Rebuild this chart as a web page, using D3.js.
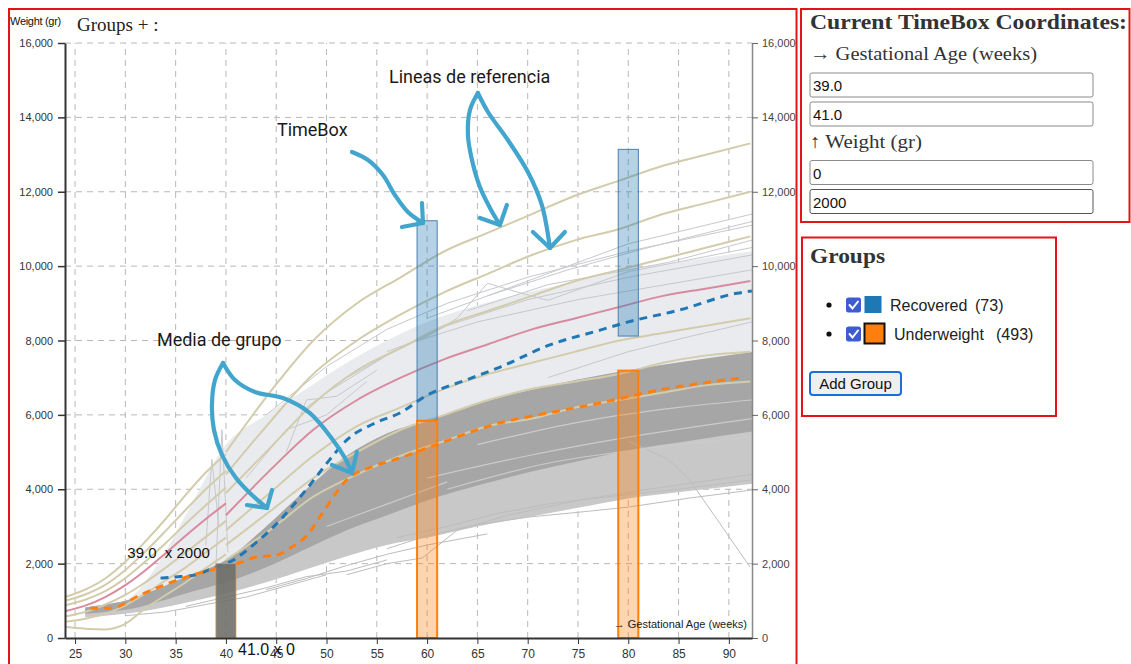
<!DOCTYPE html>
<html>
<head>
<meta charset="utf-8">
<script src="https://cdn.jsdelivr.net/npm/d3@7"></script>
<style>
  html, body { margin: 0; padding: 0; background: #fff; }
  svg { display: block; }
</style>
</head>
<body>
<svg id="page" width="1131" height="664"></svg>
<script>
// ---------------- data ----------------
const weekTicks = [25, 30, 35, 40, 45, 50, 55, 60, 65, 70, 75, 80, 85, 90];
const weightTicks = [0, 2000, 4000, 6000, 8000, 10000, 12000, 14000, 16000];

// reference curves, z = +3 .. -3 (grams); preterm chart up to 40 weeks, then the infant standard
const pretermWeeks = [24, 26, 28, 30, 32, 34, 36, 38, 40];
const pretermPlus3  = [1100, 1300, 1600, 2050, 2600, 3200, 3850, 4450, 4950];
const pretermPlus2  = [1000, 1170, 1430, 1830, 2330, 2880, 3450, 4000, 4500];
const pretermPlus1  = [880, 1030, 1260, 1610, 2060, 2550, 3070, 3570, 4050];
const pretermMedian = [720, 870, 1100, 1420, 1820, 2280, 2750, 3200, 3620];
const pretermMinus1 = [580, 700, 900, 1160, 1500, 1890, 2300, 2720, 3150];
const pretermMinus2 = [440, 520, 650, 880, 1200, 1550, 1900, 2300, 2700];
const pretermMinus3 = [300, 250, 230, 380, 800, 1150, 1500, 1880, 2250];

const infantWeeks  = [40, 44.35, 48.69, 53.04, 57.38, 61.73, 66.07, 70.42, 74.76, 79.11, 83.45, 87.8, 92.14];
const infantPlus3  = [5000, 6600, 8000, 9000, 9700, 10400, 10900, 11400, 11900, 12300, 12700, 13000, 13300];
const infantPlus2  = [4400, 5800, 7100, 8000, 8700, 9300, 9800, 10300, 10700, 11000, 11400, 11700, 12000];
const infantPlus1  = [3900, 5100, 6300, 7200, 7800, 8400, 8800, 9200, 9600, 9900, 10200, 10500, 10800];
const infantMedian = [3300, 4500, 5600, 6400, 7000, 7500, 7900, 8300, 8600, 8900, 9200, 9400, 9600];
const infantMinus1 = [2900, 3900, 4900, 5700, 6200, 6700, 7100, 7400, 7700, 8000, 8200, 8400, 8600];
const infantMinus2 = [2500, 3400, 4300, 5000, 5600, 6000, 6400, 6700, 6900, 7100, 7400, 7600, 7700];
const infantMinus3 = [2100, 2900, 3800, 4400, 4900, 5300, 5700, 5900, 6200, 6400, 6600, 6800, 6900];

// group means
const recoveredWeeks = [33.5, 35, 37, 38.7, 40.7, 42.7, 44.7, 48.1, 50.3, 52, 55, 57.3, 60, 64, 67.2, 72.2, 77.2, 80, 85.1, 90.8, 92.3];
const recoveredMean  = [1610, 1640, 1700, 1880, 2090, 2500, 2980, 4030, 4790, 5320, 5800, 6050, 6530, 6950, 7280, 7880, 8280, 8500, 8820, 9270, 9330];
const underWeeks = [26.5, 28.5, 31.5, 34.4, 37.4, 40.7, 43.1, 45.1, 46.4, 48.1, 49.6, 52, 54.5, 57.3, 60, 67.2, 72, 77.2, 83.1, 91.1];
const underMean  = [800, 800, 1160, 1480, 1750, 1960, 2180, 2230, 2420, 2770, 3360, 4250, 4600, 4840, 5110, 5780, 6050, 6320, 6670, 6990];

// spread of the individual series
const bandWeeks        = [26, 28, 30, 33, 36, 40, 44, 48, 52, 56, 60, 65, 70, 75, 80, 86, 92.3];
const recoveredTop     = [820, 900, 1000, 1900, 3300, 5200, 6000, 6700, 7400, 8000, 8500, 8950, 9300, 9600, 9900, 10150, 10400];
const underTop         = [820, 900, 1000, 1300, 1650, 2100, 3000, 4000, 4900, 5500, 5850, 6300, 6650, 6950, 7200, 7450, 7690];
const underCoreBottom  = [650, 700, 760, 950, 1200, 1500, 1900, 2400, 2900, 3300, 3700, 4100, 4450, 4750, 5050, 5300, 5550];
const underSpreadBottom= [560, 600, 650, 780, 950, 1200, 1500, 1850, 2200, 2500, 2700, 3000, 3250, 3500, 3750, 3950, 4150];

// individual series drawn on their own ([week, grams])
const recoveredSeries = [
  [[56, 7700], [60, 8100], [63, 8600], [66, 9540], [69, 9300], [72, 9080], [80, 9850], [92.3, 10500]],
  [[44, 6000], [50, 7300], [56, 8300], [62, 9000], [70, 9700], [80, 10400], [92.3, 11100]],
  [[50, 6600], [56, 7600], [62, 8400], [70, 9100], [80, 9700], [92.3, 10300]],
  [[60, 8600], [70, 9600], [80, 10600], [92.3, 11400]],
  [[48, 6200], [52, 7000], [58, 7900], [65, 8500], [75, 9100], [92.3, 9900]],
  [[46, 5000], [48, 6400], [51, 6500], [55, 7200]],
  [[72, 7000], [80, 7700], [86, 8100], [92.3, 8500]],
  [[39, 1900], [39.6, 5600], [40.2, 2300]],
  [[38, 2500], [38.6, 4800], [39.3, 3000]],
  [[42, 4300], [46, 5600], [50, 6000], [54, 6900]],
  [[66, 9200], [74, 9900], [82, 10500], [92.3, 11200]],
  [[64, 8800], [72, 9500], [84, 10100], [92.3, 10700]]
];
const underSeries = [
  [[56, 2400], [60, 2750], [65, 3050], [70, 3250], [75, 3380], [80, 3520], [86, 3760], [92.3, 3980]],
  [[57, 2700], [62, 3000], [67, 3350], [72, 3600], [78, 3800], [85, 4000], [92.3, 4250]],
  [[80, 5300], [84, 4800], [86.1, 4250], [92.1, 1910]],
  [[52, 1700], [56, 2000], [59.5, 2150], [63, 2900], [68, 3300], [75, 3700], [82, 4000], [92.3, 4400]],
  [[44, 1300], [48, 1600], [52, 1950], [56, 2250], [60, 2500], [66, 2800]],
  [[36, 850], [40, 1100], [44, 1350], [48, 1650], [52, 1800], [56, 2100]],
  [[30, 600], [34, 700], [38, 900], [42, 1100], [46, 1400], [50, 1700]]
];
const coreStreaks = [
  [[60, 4300], [70, 4900], [80, 5400], [92.3, 5900]],
  [[62, 4000], [72, 4700], [82, 5100], [92.3, 5400]],
  [[65, 5200], [75, 5800], [85, 6200], [92.3, 6400]],
  [[50, 3000], [56, 3600], [62, 4200]]
];

// time boxes
const boxFrom  = [59, 59, 79, 79];
const boxTo    = [61, 61, 81, 81];
const boxLow   = [5840, 0, 8120, 0];
const boxHigh  = [11220, 5840, 13140, 7190];
const boxGroup = ["Recovered", "Underweight", "Recovered", "Underweight"];
const activeBox = { from: 39, to: 41, low: 0, high: 2000 };

// groups listed in the side panel
const groupNames  = ["Recovered", "Underweight"];
const groupCounts = [73, 493];
const groupColors = { Recovered: "#1f77b4", Underweight: "#ff7f0e" };

// hand-drawn callouts (week, grams)
const notes = [
  { text: "TimeBox", at: [45.07, 13499] },
  { text: "Lineas de referencia", at: [56.21, 14924] },
  { text: "Media de grupo", at: [33.14, 7852] }
];
const calloutStrokes = [
  [[52.53, 13069], [54.12, 12854], [55.61, 12450], [56.80, 11912], [58.09, 11455], [59.59, 11159]],
  [[59.49, 11697], [59.59, 11159], [57.50, 11052]],
  [[65.05, 14655], [64.26, 14198], [64.06, 13526], [64.46, 12853], [65.25, 12127], [66.25, 11563], [67.24, 11106]],
  [[65.25, 11294], [67.24, 11106], [67.93, 11643]],
  [[65.05, 14655], [66.05, 14144], [68.03, 13391], [70.02, 12531], [71.41, 11643], [72.21, 10487]],
  [[70.52, 10917], [72.21, 10487], [73.70, 10917]],
  [[39.71, 7395], [38.91, 6938], [38.61, 6265], [38.81, 5593], [39.61, 4921], [41.0, 4302], [42.59, 3845], [44.08, 3496]],
  [[42.09, 3576], [44.08, 3496], [44.58, 3980]],
  [[39.71, 7395], [40.90, 6938], [42.89, 6615], [45.67, 6454], [48.35, 6050], [50.64, 5324], [51.83, 4840], [52.53, 4437]],
  [[50.54, 4652], [52.53, 4437], [53.02, 5002]]
];

// ---------------- drawing ----------------
const svg = d3.select("#page");
const sans = "'Liberation Sans', Arial, Helvetica, sans-serif";
const serif = "'Liberation Serif', 'DejaVu Serif', serif";

const x = d3.scaleLinear().domain([24, 92.3]).range([65, 752]);
const y = d3.scaleLinear().domain([0, 16000]).range([638, 43]);
const zip = (xs, ys) => xs.map((w, i) => [w, ys[i]]);

svg.append("defs").append("clipPath").attr("id", "plotClip")
  .append("rect").attr("x", x.range()[0]).attr("y", y.range()[1])
  .attr("width", x.range()[1] - x.range()[0]).attr("height", y.range()[0] - y.range()[1]);

// grid
const grid = svg.append("g").attr("stroke", "#b8b8b8").attr("stroke-dasharray", "6,5").attr("stroke-width", 1);
grid.selectAll(".h").data(weightTicks.filter(d => d > 0)).join("line")
  .attr("x1", x.range()[0]).attr("x2", x.range()[1])
  .attr("y1", d => y(d)).attr("y2", d => y(d));
grid.selectAll(".v").data(weekTicks).join("line")
  .attr("x1", d => x(d)).attr("x2", d => x(d))
  .attr("y1", y(0)).attr("y2", y(16000));

const plot = svg.append("g").attr("clip-path", "url(#plotClip)");

const band = (top, bottom) => d3.area()
  .x((d, i) => x(bandWeeks[i])).y0((d, i) => y(bottom[i])).y1((d, i) => y(top[i]))
  .curve(d3.curveMonotoneX)(bandWeeks);

plot.append("path").attr("d", band(recoveredTop, underTop)).attr("fill", "#e9ebee");
plot.append("path").attr("d", band(underTop, underSpreadBottom)).attr("fill", "#c8c8c8");
plot.append("path").attr("d", band(underTop, underCoreBottom)).attr("fill", "#a6a6a6");

const series = d3.line().x(d => x(d[0])).y(d => y(d[1])).curve(d3.curveMonotoneX);
const straight = d3.line().x(d => x(d[0])).y(d => y(d[1]));

plot.append("g").selectAll("path").data(recoveredSeries).join("path")
  .attr("d", straight).attr("fill", "none").attr("stroke", "#c6c8cc").attr("stroke-width", 1);
plot.append("g").selectAll("path").data(underSeries).join("path")
  .attr("d", straight).attr("fill", "none").attr("stroke", "#bdbdbd").attr("stroke-width", 1);
plot.append("g").selectAll("path").data(coreStreaks).join("path")
  .attr("d", series).attr("fill", "none").attr("stroke", "#cbcbcb").attr("stroke-width", 1.2);

// reference curves
const pretermSets = [pretermPlus3, pretermPlus2, pretermPlus1, pretermMinus1, pretermMinus2, pretermMinus3];
const infantSets  = [infantPlus3, infantPlus2, infantPlus1, infantMinus1, infantMinus2, infantMinus3];
const refs = plot.append("g").attr("fill", "none").attr("stroke-width", 2);
refs.selectAll(".pre").data(pretermSets).join("path").attr("class", "pre")
  .attr("d", d => series(zip(pretermWeeks, d))).attr("stroke", "#d3ccac");
refs.selectAll(".inf").data(infantSets).join("path").attr("class", "inf")
  .attr("d", d => series(zip(infantWeeks, d))).attr("stroke", "#d3ccac");
refs.append("path").attr("d", series(zip(pretermWeeks, pretermMedian))).attr("stroke", "#d88b9e");
refs.append("path").attr("d", series(zip(infantWeeks, infantMedian))).attr("stroke", "#d88b9e");

// group time boxes
const boxes = boxFrom.map((f, i) => ({ from: f, to: boxTo[i], low: boxLow[i], high: boxHigh[i], group: boxGroup[i] }));
plot.append("g").selectAll("rect").data(boxes).join("rect")
  .attr("x", d => x(d.from)).attr("width", d => x(d.to) - x(d.from))
  .attr("y", d => y(d.high)).attr("height", d => y(d.low) - y(d.high))
  .attr("fill", d => groupColors[d.group]).attr("fill-opacity", 0.33)
  .attr("stroke", d => d.group === "Underweight" ? "#ff7f0e" : "#4a7fae")
  .attr("stroke-width", d => d.group === "Underweight" ? 2 : 1);

// group means
plot.append("path").attr("d", series(zip(recoveredWeeks, recoveredMean)))
  .attr("fill", "none").attr("stroke", "#1f77b4").attr("stroke-width", 3).attr("stroke-dasharray", "8,6");
plot.append("path").attr("d", series(zip(underWeeks, underMean)))
  .attr("fill", "none").attr("stroke", "#ff7f0e").attr("stroke-width", 3).attr("stroke-dasharray", "8,6");

// active time box
plot.append("rect")
  .attr("x", x(activeBox.from)).attr("width", x(activeBox.to) - x(activeBox.from))
  .attr("y", y(activeBox.high)).attr("height", y(activeBox.low) - y(activeBox.high))
  .attr("fill", "#6f6f6b").attr("fill-opacity", 0.9)
  .attr("stroke", "#d99a55").attr("stroke-opacity", 0.7).attr("stroke-width", 1);

// axes
const fmt = d3.format(",");
const left = svg.append("g").attr("transform", `translate(${x.range()[0]},0)`)
  .call(d3.axisLeft(y).tickValues(weightTicks).tickFormat(fmt).tickSize(7).tickPadding(5).tickSizeOuter(0));
left.select(".domain").attr("stroke", "#333").attr("stroke-width", 2);
left.selectAll(".tick line").attr("stroke", "#333").attr("stroke-width", 1.5);
left.selectAll("text").attr("font-family", sans).attr("font-size", 11).attr("fill", "#333");

const right = svg.append("g").attr("transform", `translate(${x.range()[1]},0)`)
  .call(d3.axisRight(y).tickValues(weightTicks).tickFormat(fmt).tickSize(6).tickPadding(4).tickSizeOuter(0));
right.select(".domain").attr("stroke", "#888").attr("stroke-width", 1.5);
right.selectAll(".tick line").attr("stroke", "#666");
right.selectAll("text").attr("font-family", sans).attr("font-size", 11).attr("fill", "#444");

const bottom = svg.append("g").attr("transform", `translate(0,${y.range()[0]})`)
  .call(d3.axisBottom(x).tickValues(weekTicks).tickSize(6).tickPadding(5).tickSizeOuter(0));
bottom.select(".domain").attr("stroke", "#333").attr("stroke-width", 2);
bottom.selectAll(".tick line").attr("stroke", "#333");
bottom.selectAll("text").attr("font-family", sans).attr("font-size", 12).attr("fill", "#333");

svg.append("text").attr("x", 10).attr("y", 25).text("Weight (gr)")
  .attr("font-family", sans).attr("font-size", 11).attr("fill", "#111").attr("letter-spacing", -0.3);
svg.append("text").attr("x", x.range()[1] - 5).attr("y", y(0) - 10).attr("text-anchor", "end")
  .text("\u2192 Gestational Age (weeks)")
  .attr("font-family", sans).attr("font-size", 11).attr("fill", "#222");
svg.append("text").attr("x", 77).attr("y", 31).text("Groups + :")
  .attr("font-family", serif).attr("font-size", 19).attr("fill", "#222");

// active box coordinate labels
svg.append("text").attr("x", x(activeBox.from) - 6).attr("y", y(activeBox.high) - 6)
  .attr("text-anchor", "end").text(`${activeBox.from.toFixed(1)}\u00a0\u00a0x ${activeBox.high}`)
  .attr("font-family", sans).attr("font-size", 15).attr("fill", "#111");
svg.append("text").attr("x", x(activeBox.to) + 2).attr("y", y(activeBox.low) + 17)
  .text(`${activeBox.to.toFixed(1)} x ${activeBox.low}`)
  .attr("font-family", sans).attr("font-size", 16).attr("fill", "#111");

// callouts
svg.append("g").selectAll("text").data(notes).join("text")
  .attr("x", d => x(d.at[0])).attr("y", d => y(d.at[1])).text(d => d.text)
  .attr("font-family", "Roboto, 'Liberation Sans', sans-serif").attr("font-size", 18).attr("fill", "#1a1a1a");
const stroke = d3.line().x(d => x(d[0])).y(d => y(d[1])).curve(d3.curveCatmullRom.alpha(0.5));
svg.append("g").selectAll("path").data(calloutStrokes).join("path")
  .attr("d", d => d.length === 3 ? straight(d) : stroke(d))
  .attr("fill", "none").attr("stroke", "#41a5cd").attr("stroke-width", 4.2)
  .attr("stroke-linecap", "round").attr("stroke-linejoin", "round");

// ---------------- side panels ----------------
function inputBox(px, py, value, dark) {
  svg.append("rect").attr("x", px).attr("y", py).attr("width", 283).attr("height", 24).attr("rx", 2)
    .attr("fill", "#fff").attr("stroke", dark ? "#555" : "#8a8a8a").attr("stroke-width", 1);
  svg.append("text").attr("x", px + 3).attr("y", py + 18).text(value)
    .attr("font-family", sans).attr("font-size", 15).attr("fill", "#111");
}
svg.append("text").attr("x", 810).attr("y", 29).text("Current TimeBox Coordinates:")
  .attr("font-family", serif).attr("font-weight", "bold").attr("font-size", 22).attr("fill", "#333")
  .attr("textLength", 317).attr("lengthAdjust", "spacingAndGlyphs");
svg.append("text").attr("x", 810).attr("y", 60).text("\u2192 Gestational Age (weeks)")
  .attr("font-family", serif).attr("font-size", 19).attr("fill", "#333")
  .attr("textLength", 227).attr("lengthAdjust", "spacingAndGlyphs");
inputBox(810, 73, activeBox.from.toFixed(1));
inputBox(810, 102, activeBox.to.toFixed(1));
svg.append("text").attr("x", 810).attr("y", 148).text("\u2191 Weight (gr)")
  .attr("font-family", serif).attr("font-size", 19).attr("fill", "#333")
  .attr("textLength", 112).attr("lengthAdjust", "spacingAndGlyphs");
inputBox(810, 160.5, String(activeBox.low));
inputBox(810, 189.5, String(activeBox.high), true);

svg.append("text").attr("x", 810).attr("y", 263).text("Groups")
  .attr("font-family", serif).attr("font-weight", "bold").attr("font-size", 22).attr("fill", "#333")
  .attr("textLength", 75).attr("lengthAdjust", "spacingAndGlyphs");

const rowY = [305, 334];
const countX = [975, 996];
groupNames.forEach((name, i) => {
  const cy = rowY[i];
  svg.append("circle").attr("cx", 829).attr("cy", cy).attr("r", 2.6).attr("fill", "#111");
  svg.append("rect").attr("x", 846).attr("y", cy - 7.5).attr("width", 15).attr("height", 15).attr("rx", 2.5)
    .attr("fill", "#3d5ccf");
  svg.append("path").attr("d", `M${849.5},${cy} l3,3.5 l5.5,-7`)
    .attr("fill", "none").attr("stroke", "#fff").attr("stroke-width", 2).attr("stroke-linecap", "round");
  const sw = name === "Underweight" ? 20 : 17;
  svg.append("rect").attr("x", 864.5).attr("y", cy - sw / 2 - 0.5).attr("width", sw).attr("height", sw)
    .attr("fill", groupColors[name])
    .attr("stroke", name === "Underweight" ? "#111" : "none").attr("stroke-width", 2);
  svg.append("text").attr("x", name === "Underweight" ? 894 : 890).attr("y", cy + 5.5).text(name)
    .attr("font-family", sans).attr("font-size", 16).attr("fill", "#222");
  svg.append("text").attr("x", countX[i]).attr("y", cy + 5.5).text(`(${groupCounts[i]})`)
    .attr("font-family", sans).attr("font-size", 16).attr("fill", "#222");
});

svg.append("rect").attr("x", 810).attr("y", 372).attr("width", 91).attr("height", 23).attr("rx", 3)
  .attr("fill", "#efefef").attr("stroke", "#1a6fd6").attr("stroke-width", 2);
svg.append("text").attr("x", 855.5).attr("y", 389).attr("text-anchor", "middle").text("Add Group")
  .attr("font-family", sans).attr("font-size", 15).attr("fill", "#111");

// panel frames
const frame = svg.append("g").attr("fill", "none").attr("stroke", "#e4121b").attr("stroke-width", 2);
frame.append("rect").attr("x", 9).attr("y", 9).attr("width", 787.5).attr("height", 670);
frame.append("rect").attr("x", 801).attr("y", 9).attr("width", 328.5).attr("height", 213);
frame.append("rect").attr("x", 802).attr("y", 237.5).attr("width", 254).attr("height", 178.5);
</script>
</body>
</html>
